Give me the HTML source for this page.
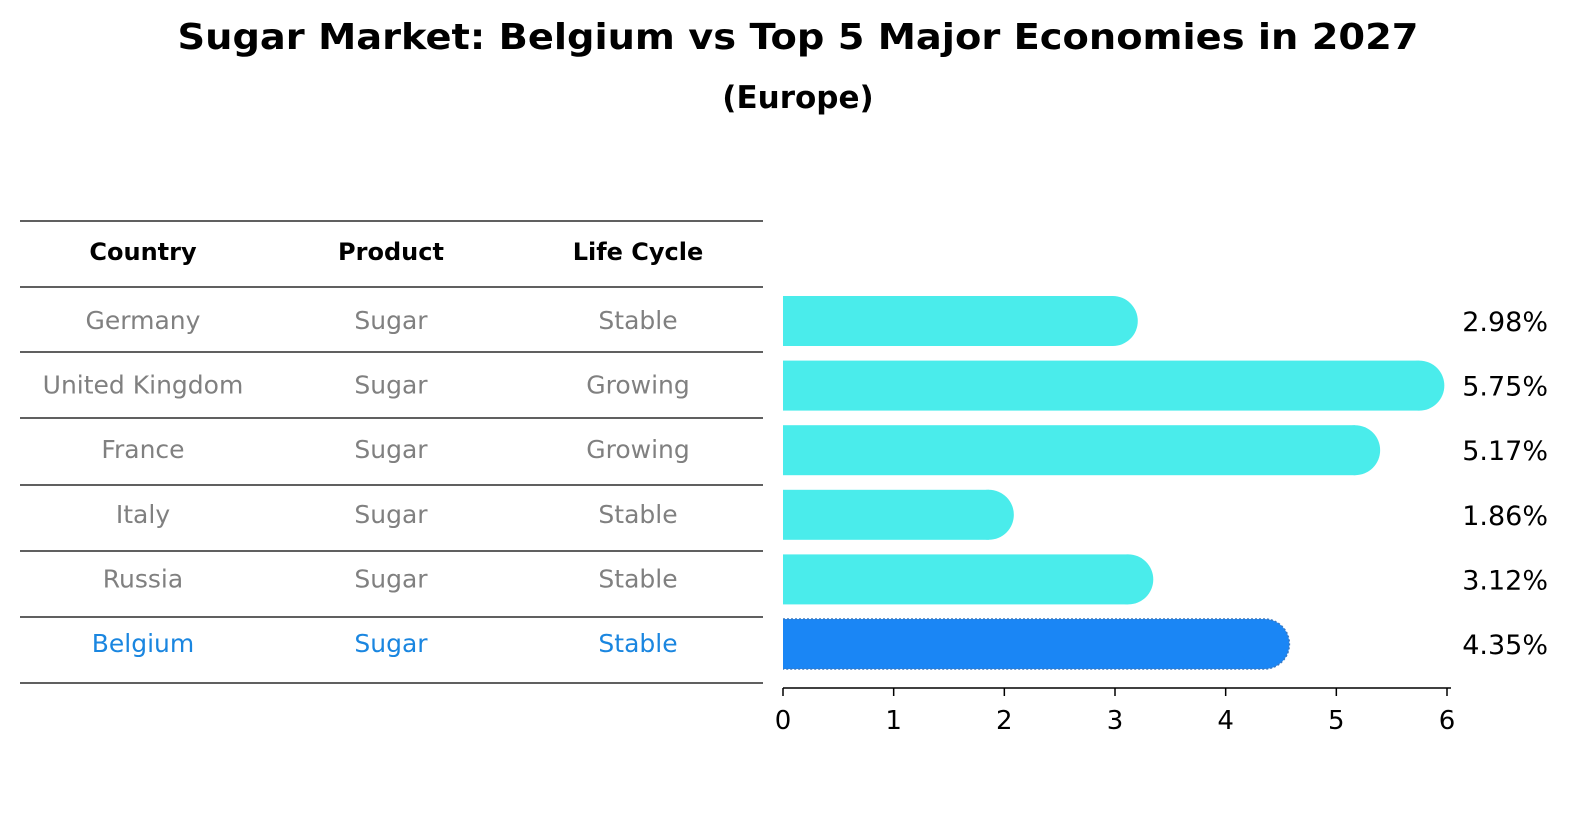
<!DOCTYPE html>
<html><head><meta charset="utf-8"><style>
html,body{margin:0;padding:0;background:#fff;overflow:hidden;width:1586px;height:823px;}
svg{display:block;}
svg text{font-family:"DejaVu Sans","Liberation Sans",sans-serif;}
</style></head><body>
<svg id="c" width="1586" height="823" xmlns="http://www.w3.org/2000/svg">
<text x="798" y="49" text-anchor="middle" font-size="36" font-weight="bold" textLength="1241" lengthAdjust="spacingAndGlyphs">Sugar Market: Belgium vs Top 5 Major Economies in 2027</text>
<text x="798" y="108" text-anchor="middle" font-size="31" font-weight="bold">(Europe)</text>
<g id="tbl"></g>
<g id="bars"></g>
<g id="axis"></g>
</svg>
<script>
const countries=["Germany","United Kingdom","France","Italy","Russia","Belgium"];
const products=["Sugar","Sugar","Sugar","Sugar","Sugar","Sugar"];
const lifecycles=["Stable","Growing","Growing","Stable","Stable","Stable"];
const values=[2.98,5.75,5.17,1.86,3.12,4.35];
const ticks=[0,1,2,3,4,5,6];
const NS="http://www.w3.org/2000/svg";
const x0=783,pxu=(1447-783)/6;
const X=v=>x0+v*pxu;
const rowY=i=>321+i*64.6;
function mk(t,a,p){const e=document.createElementNS(NS,t);for(const k in a)e.setAttribute(k,a[k]);p.appendChild(e);return e;}
const tbl=document.getElementById('tbl'),bars=document.getElementById('bars'),axis=document.getElementById('axis');
const lines=[221,287,352,418,485,551,617,683];
lines.forEach(y=>{const l=mk('line',{x1:20,x2:763,y1:y,y2:y,stroke:'#000','stroke-width':1.2},tbl);

});
const cx=[143,391,638];
["Country","Product","Life Cycle"].forEach((h,j)=>{const t=mk('text',{x:cx[j],y:260,'text-anchor':'middle','font-size':24,'font-weight':'bold'},tbl);t.textContent=h;

});
countries.forEach((c,i)=>{const col=i===5?'#1a86e0':'#808080';
[c,products[i],lifecycles[i]].forEach((v,j)=>{const t=mk('text',{x:cx[j],y:rowY(i)+8,'text-anchor':'middle','font-size':25,fill:col},tbl);t.textContent=v;

});
const isB=i===5,fill=isB?'#1a86f5':'#4aeceb';
const g=mk('g',{},bars);


const y=rowY(i),h=50;
mk('rect',{x:x0,y:y-h/2,width:X(values[i])-x0,height:h,fill:fill},g);
mk('circle',{cx:X(values[i]),cy:y,r:h/2,fill:fill},g);
if(isB){mk('path',{d:`M${x0} ${y-h/2}H${X(values[i])}A${h/2} ${h/2} 0 0 1 ${X(values[i])} ${y+h/2}H${x0}`,fill:'none',stroke:'#3a78c0','stroke-width':1.5,'stroke-dasharray':'2 2'},g);}
const t=mk('text',{x:1548,y:y+10,'text-anchor':'end','font-size':27},bars);t.textContent=values[i].toFixed(2)+'%';


});
mk('line',{x1:x0,x2:1451,y1:688,y2:688,stroke:'#000','stroke-width':1.5},axis);
ticks.forEach(v=>{mk('line',{x1:X(v),x2:X(v),y1:688,y2:696,stroke:'#000','stroke-width':1.5},axis);
const t=mk('text',{x:X(v),y:729,'text-anchor':'middle','font-size':26},axis);t.textContent=v;

});
</script>
</body></html>
